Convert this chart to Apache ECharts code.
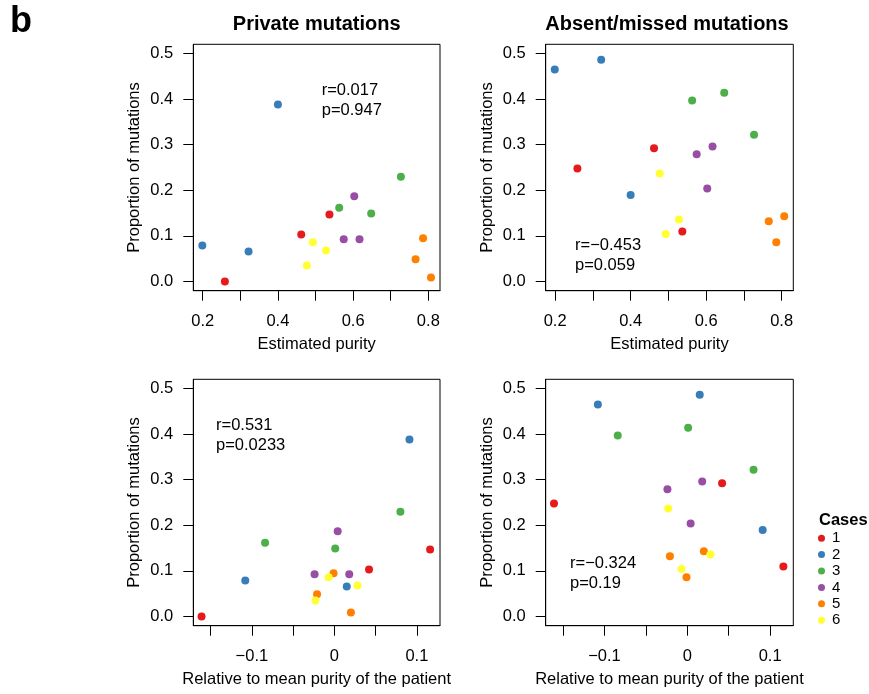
<!DOCTYPE html>
<html>
<head>
<meta charset="utf-8">
<script src="https://cdn.jsdelivr.net/npm/echarts@6/dist/echarts.min.js"></script>
<style>html,body{margin:0;padding:0;background:#fff}#c{width:869px;height:694px}</style>
</head>
<body>
<div id="c"></div>
<script>
// ---- data (3 samples per case, 6 cases) ----
const cases = ['1', '2', '3', '4', '5', '6'];
const caseColors = ['#E41A1C', '#377EB8', '#4DAF4A', '#984EA3', '#FF7F00', '#FFFF33'];
const sampleCase = [1,1,1, 2,2,2, 3,3,3, 4,4,4, 5,5,5, 6,6,6];
const purity = [0.259,0.462,0.537, 0.199,0.322,0.400, 0.563,0.648,0.727, 0.575,0.603,0.617, 0.766,0.786,0.807, 0.477,0.493,0.528];
const relPurity = [-0.161,0.042,0.116, -0.108,0.015,0.091, -0.084,0.001,0.080, -0.024,0.004,0.018, -0.021,-0.001,0.020, -0.023,-0.007,0.028];
const privateProp = [0.000,0.103,0.147, 0.079,0.066,0.388, 0.162,0.149,0.230, 0.093,0.187,0.093, 0.049,0.095,0.009, 0.035,0.086,0.068];
const absentProp = [0.248,0.292,0.110, 0.465,0.486,0.190, 0.397,0.414,0.322, 0.279,0.204,0.296, 0.132,0.086,0.143, 0.237,0.104,0.136];

const yTicks = [0, 0.1, 0.2, 0.3, 0.4, 0.5];
const xTicksTop = [0.2, 0.3, 0.4, 0.5, 0.6, 0.7, 0.8];
const xLabelsTop = [0.2, 0.4, 0.6, 0.8];
const xTicksBottom = [-0.15, -0.1, -0.05, 0, 0.05, 0.1];
const xLabelsBottom = [-0.1, 0, 0.1];

const panelTitles = ['Private mutations', 'Absent/missed mutations'];
const statsText = [['r=0.017', 'p=0.947'], ['r=\u22120.453', 'p=0.059'], ['r=0.531', 'p=0.0233'], ['r=\u22120.324', 'p=0.19']];

// ---- layout ----
const FONT = '"Liberation Sans", Arial, Helvetica, sans-serif';
const FS = 16.5;
const grids = [
  {left: 193.3, top: 44.3, width: 246.7, height: 246.4},
  {left: 545.7, top: 44.3, width: 247.6, height: 246.4},
  {left: 193.3, top: 379.3, width: 246.7, height: 246.4},
  {left: 545.7, top: 379.3, width: 247.6, height: 246.4}
];
const xRanges = [[0.175, 0.831], [0.175, 0.831], [-0.171, 0.128], [-0.171, 0.128]];
const yRange = [-0.02, 0.52];

function fmtMinus(v) {
  if (Math.abs(v) < 1e-9) return '0';
  return v < 0 ? '\u2212' + Math.abs(v).toFixed(1) : v.toFixed(1);
}

const xAxes = [], yAxes = [], series = [];
grids.forEach((g, i) => {
  const top = i < 2;
  xAxes.push({
    type: 'value', gridIndex: i, min: xRanges[i][0], max: xRanges[i][1],
    axisLine: {show: true, onZero: false, lineStyle: {color: '#000', width: 1}},
    axisTick: {show: true, length: 10, inside: false, customValues: top ? xTicksTop : xTicksBottom, lineStyle: {color: '#000', width: 1}},
    axisLabel: {customValues: top ? xLabelsTop : xLabelsBottom, margin: 22, color: '#000', fontSize: FS, fontFamily: FONT,
      formatter: v => top ? v.toFixed(1) : fmtMinus(v)},
    splitLine: {show: false},
    name: top ? 'Estimated purity' : 'Relative to mean purity of the patient',
    nameLocation: 'middle', nameGap: 45,
    nameTextStyle: {color: '#000', fontSize: FS, fontFamily: FONT}
  });
  yAxes.push({
    type: 'value', gridIndex: i, min: yRange[0], max: yRange[1],
    axisLine: {show: true, onZero: false, lineStyle: {color: '#000', width: 1}},
    axisTick: {show: true, length: 10, customValues: yTicks, lineStyle: {color: '#000', width: 1}},
    axisLabel: {customValues: yTicks, margin: 20, color: '#000', fontSize: FS, fontFamily: FONT, formatter: v => v.toFixed(1)},
    splitLine: {show: false},
    name: 'Proportion of mutations', nameLocation: 'middle', nameGap: 50, nameRotate: 90,
    nameTextStyle: {color: '#000', fontSize: FS, fontFamily: FONT}
  });
  const xs = top ? purity : relPurity;
  const ys = (i % 2 === 0) ? privateProp : absentProp;
  cases.forEach((c, ci) => {
    const data = [];
    sampleCase.forEach((sc, k) => { if (sc === ci + 1) data.push([xs[k], ys[k]]); });
    series.push({
      type: 'scatter', name: c, xAxisIndex: i, yAxisIndex: i, data: data,
      symbol: 'circle', symbolSize: 8,
      itemStyle: {color: caseColors[ci], opacity: 1},
      emphasis: {disabled: true}, animation: false
    });
  });
});

const statPos = [[321.7, 90], [575, 245], [216, 425], [570, 563.5]];
const graphics = [
  {type: 'text', left: 10, top: 4, style: {text: 'b', font: 'bold 36px ' + FONT, fill: '#000'}},
  {type: 'text', x: 316.7, y: 24, style: {text: panelTitles[0], font: 'bold 20px ' + FONT, fill: '#000', textAlign: 'center', textVerticalAlign: 'middle'}},
  {type: 'text', x: 667, y: 24, style: {text: panelTitles[1], font: 'bold 20px ' + FONT, fill: '#000', textAlign: 'center', textVerticalAlign: 'middle'}},
  {type: 'text', x: 819, y: 520, style: {text: 'Cases', font: 'bold 16.5px ' + FONT, fill: '#000', textAlign: 'left', textVerticalAlign: 'middle'}}
];
statsText.forEach((t, i) => {
  graphics.push({type: 'text', x: statPos[i][0], y: statPos[i][1], style: {text: t[0], font: FS + 'px ' + FONT, fill: '#000', textAlign: 'left', textVerticalAlign: 'middle'}});
  graphics.push({type: 'text', x: statPos[i][0], y: statPos[i][1] + 20, style: {text: t[1], font: FS + 'px ' + FONT, fill: '#000', textAlign: 'left', textVerticalAlign: 'middle'}});
});

const chart = echarts.init(document.getElementById('c'), null, {renderer: 'canvas'});
chart.setOption({
  backgroundColor: '#fff',
  animation: false,
  grid: grids.map(g => Object.assign({show: true, borderColor: '#000', borderWidth: 1, backgroundColor: 'transparent', containLabel: false}, g)),
  xAxis: xAxes,
  yAxis: yAxes,
  series: series,
  legend: {
    data: cases, orient: 'vertical', left: 818, top: 530,
    icon: 'circle', itemWidth: 7, itemHeight: 7, itemGap: 0, selectedMode: false,
    textStyle: {color: '#000', fontSize: 15, fontFamily: FONT, lineHeight: 16.4, padding: [0, 0, 0, 2]},
    padding: 0
  },
  graphic: graphics
});
</script>
</body>
</html>
